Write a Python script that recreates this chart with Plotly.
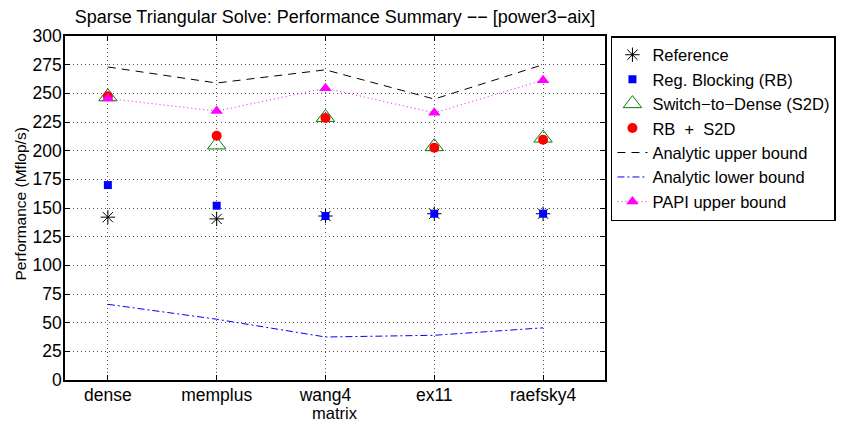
import plotly.graph_objects as go

categories = ["dense", "memplus", "wang4", "ex11", "raefsky4"]
x_pos = [1, 2, 3, 4, 5]

reference = [142, 140.5, 143, 145, 145]
reg_blocking = [170, 152, 143, 145, 145]
switch_to_dense = [247, 205, 229, 203.5, 211]
rb_s2d = [247.5, 213, 228.5, 202.5, 209.5]
analytic_upper = [273, 259, 270.5, 245, 275]
analytic_lower = [66, 53, 37.5, 39, 45.5]
papi_upper = [245.5, 234.5, 254.5, 233, 261.5]

y_ticks = list(range(0, 301, 25))

FONT = "Liberation Sans, Arial, Helvetica, sans-serif"

fig = go.Figure()

fig.add_trace(go.Scatter(
    x=x_pos, y=reference, mode="markers", name="Reference",
    marker=dict(symbol="asterisk-open", size=12, color="black",
                line=dict(color="black", width=1)),
))
fig.add_trace(go.Scatter(
    x=x_pos, y=reg_blocking, mode="markers", name="Reg. Blocking (RB)",
    marker=dict(symbol="square", size=8, color="#0000ff", line=dict(width=0)),
))
fig.add_trace(go.Scatter(
    x=x_pos, y=switch_to_dense, mode="markers", name="Switch\u2212to\u2212Dense (S2D)",
    marker=dict(symbol="triangle-up-open", size=16, color="#008000",
                line=dict(color="#008000", width=1)),
))
fig.add_trace(go.Scatter(
    x=x_pos, y=rb_s2d, mode="markers", name="RB  +  S2D",
    marker=dict(symbol="circle", size=10, color="#ff0000", line=dict(width=0)),
))
fig.add_trace(go.Scatter(
    x=x_pos, y=analytic_upper, mode="lines", name="Analytic upper bound",
    line=dict(color="black", width=1, dash="8px,6px"),
))
fig.add_trace(go.Scatter(
    x=x_pos, y=analytic_lower, mode="lines", name="Analytic lower bound",
    line=dict(color="#0000ff", width=1, dash="7px,3px,2px,3px"),
))
fig.add_trace(go.Scatter(
    x=x_pos, y=papi_upper, mode="lines+markers", name="PAPI upper bound",
    line=dict(color="#ff00ff", width=1, dash="1px,3px"),
    marker=dict(symbol="triangle-up", size=11, color="#ff00ff", line=dict(width=0)),
))

axis_common = dict(
    showline=True, linecolor="black", linewidth=1.5, mirror="allticks",
    ticks="inside", ticklen=5, tickcolor="black", tickwidth=1,
    showgrid=True, gridcolor="#555555", gridwidth=1, griddash="1px,3px",
    zeroline=False, automargin=False, ticklabelstandoff=-2,
    tickfont=dict(family=FONT, size=17.5, color="black"),
)

# page has an 8px body margin: figure is 849x413 placed at (8, 8)
fig.update_layout(
    width=849, height=413, autosize=False,
    margin=dict(l=57, r=252, t=28, b=41),
    paper_bgcolor="white", plot_bgcolor="white",
    font=dict(family=FONT, color="black"),
    title=dict(
        text="Sparse Triangular Solve: Performance Summary \u2212\u2212 [power3\u2212aix]",
        font=dict(family=FONT, size=18, color="black"),
        x=0.5, xref="paper", xanchor="center", y=0.979, yanchor="middle",
    ),
    xaxis=dict(
        axis_common, range=[0.606, 5.569], tickmode="array",
        tickvals=x_pos, ticktext=categories,
    ),
    yaxis=dict(
        axis_common, range=[0, 300], tickmode="array", tickvals=y_ticks,
    ),
    legend=dict(
        x=1.011, y=1.0, xanchor="left", yanchor="top",
        bordercolor="black", borderwidth=1.5, bgcolor="white",
        font=dict(family=FONT, size=16.5, color="black"),
        tracegroupgap=0, itemwidth=30,
    ),
    showlegend=True,
    annotations=[
        dict(text="matrix", xref="paper", yref="paper", x=0.5, y=-0.097,
             xanchor="center", yanchor="middle", showarrow=False,
             font=dict(family=FONT, size=16.5, color="black")),
        dict(text="Performance (Mflop/s)", xref="paper", yref="paper",
             x=-0.0815, y=0.513, xanchor="center", yanchor="middle",
             textangle=-90, showarrow=False,
             font=dict(family=FONT, size=15.5, color="black")),
    ],
)

fig.write_html("out.html")
